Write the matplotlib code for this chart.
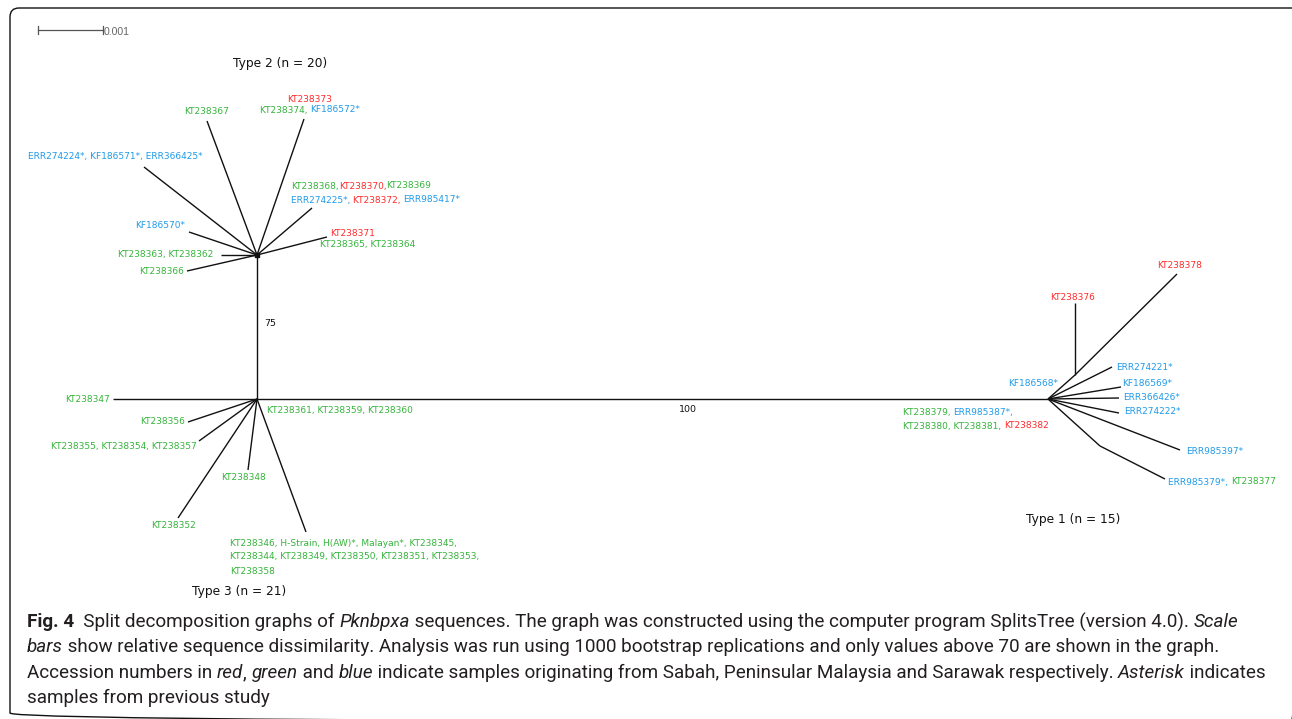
import matplotlib
matplotlib.use("Agg")
import matplotlib.pyplot as plt
from matplotlib.patches import FancyBboxPatch

RED = "#ff2b2b"
GRN = "#35b43c"
BLU = "#1f9be8"

#%% network nodes (pixel positions)
node_names = ["hub2", "hub3", "hub1",
              "t2_367", "t2_374", "t2_err", "t2_368", "t2_371", "t2_570", "t2_363", "t2_366",
              "t3_347", "t3_356", "t3_355", "t3_348", "t3_352", "t3_346",
              "n1_a", "t1_376", "t1_378", "t1_221", "t1_569", "t1_426", "t1_222", "t1_397",
              "n1_b", "t1_379"]
node_x = [257, 257, 1048,
          207, 304, 144, 312, 327, 189, 221, 187,
          113, 188, 199, 248, 178, 306,
          1075, 1075, 1177, 1112, 1121, 1119, 1119, 1180,
          1100, 1165]
node_y = [255, 399, 399,
          121, 119, 167, 208, 237, 232, 255, 271,
          399, 422, 441, 470, 518, 532,
          375, 303, 274, 367, 387, 398, 413, 450,
          446, 479]

edges = [("hub2", "hub3"), ("hub3", "hub1"),
         ("hub2", "t2_367"), ("hub2", "t2_374"), ("hub2", "t2_err"), ("hub2", "t2_368"),
         ("hub2", "t2_371"), ("hub2", "t2_570"), ("hub2", "t2_363"), ("hub2", "t2_366"),
         ("hub3", "t3_347"), ("hub3", "t3_356"), ("hub3", "t3_355"), ("hub3", "t3_348"),
         ("hub3", "t3_352"), ("hub3", "t3_346"),
         ("hub1", "n1_a"), ("n1_a", "t1_376"), ("n1_a", "t1_378"),
         ("hub1", "t1_221"), ("hub1", "t1_569"), ("hub1", "t1_426"), ("hub1", "t1_222"),
         ("hub1", "t1_397"), ("hub1", "n1_b"), ("n1_b", "t1_379")]

#%% leaf labels : (x, y, align, [(text, colour), ...])
labels = [
    (207, 112, "center", [("KT238367", GRN)]),
    (310, 99, "center", [("KT238373", RED)]),
    (310, 110, "center", [("KT238374, ", GRN), ("KF186572*", BLU)]),
    (115, 157, "center", [("ERR274224*, KF186571*, ERR366425*", BLU)]),
    (291, 186, "left", [("KT238368,", GRN), ("KT238370,", RED), ("KT238369", GRN)]),
    (291, 200, "left", [("ERR274225*, ", BLU), ("KT238372, ", RED), ("ERR985417*", BLU)]),
    (330, 233, "left", [("KT238371", RED)]),
    (320, 245, "left", [("KT238365, KT238364", GRN)]),
    (185, 226, "right", [("KF186570*", BLU)]),
    (213, 254, "right", [("KT238363, KT238362", GRN)]),
    (184, 271, "right", [("KT238366", GRN)]),
    (110, 399, "right", [("KT238347", GRN)]),
    (185, 421, "right", [("KT238356", GRN)]),
    (197, 447, "right", [("KT238355, KT238354, KT238357", GRN)]),
    (244, 477, "center", [("KT238348", GRN)]),
    (173, 525, "center", [("KT238352", GRN)]),
    (230, 543, "left", [("KT238346, H-Strain, H(AW)*, Malayan*, KT238345,", GRN)]),
    (230, 557, "left", [("KT238344, KT238349, KT238350, KT238351, KT238353,", GRN)]),
    (230, 571, "left", [("KT238358", GRN)]),
    (267, 410, "left", [("KT238361, KT238359, KT238360", GRN)]),
    (1073, 297, "center", [("KT238376", RED)]),
    (1180, 266, "center", [("KT238378", RED)]),
    (1116, 367, "left", [("ERR274221*", BLU)]),
    (1122, 384, "left", [("KF186569*", BLU)]),
    (1123, 398, "left", [("ERR366426*", BLU)]),
    (1124, 412, "left", [("ERR274222*", BLU)]),
    (1186, 451, "left", [("ERR985397*", BLU)]),
    (1168, 482, "left", [("ERR985379*, ", BLU), ("KT238377", GRN)]),
    (1058, 383, "right", [("KF186568*", BLU)]),
    (903, 413, "left", [("KT238379, ", GRN), ("ERR985387*,", BLU)]),
    (903, 426, "left", [("KT238380, KT238381, ", GRN), ("KT238382", RED)]),
]

group_titles = ["Type 2 (n = 20)", "Type 3 (n = 21)", "Type 1 (n = 15)"]
group_xy = [(280, 64), (239, 592), (1073, 520)]
support = ["75", "100"]
support_xy = [(270, 324), (688, 410)]

caption = [
    [("Fig. 4", "bold"), ("  Split decomposition graphs of ", "normal"), ("Pknbpxa", "italic"),
     (" sequences. The graph was constructed using the computer program SplitsTree (version 4.0). ", "normal"),
     ("Scale", "italic")],
    [("bars", "italic"),
     (" show relative sequence dissimilarity. Analysis was run using 1000 bootstrap replications and only values above 70 are shown in the graph.", "normal")],
    [("Accession numbers in ", "normal"), ("red", "italic"), (", ", "normal"), ("green", "italic"),
     (" and ", "normal"), ("blue", "italic"),
     (" indicate samples originating from Sabah, Peninsular Malaysia and Sarawak respectively. ", "normal"),
     ("Asterisk", "italic"), (" indicates", "normal")],
    [("samples from previous study", "normal")],
]
caption_y = [622, 647, 673, 698]
caption_right = [1263, 1248, 1262, None]

#%% drawing
fig = plt.figure(figsize=(12.92, 7.19), dpi=100)
ax = fig.add_axes([0, 0, 1, 1])
ax.set_xlim(0, 1292)
ax.set_ylim(719, 0)
ax.axis("off")
rend = fig.canvas.get_renderer()

frame = FancyBboxPatch((10, 8), 1290, 714, boxstyle="round,pad=0,rounding_size=9",
                       fill=False, ec="#111111", lw=1.0)
ax.add_patch(frame)

pos = dict(zip(node_names, zip(node_x, node_y)))
for a, b in edges:
    ax.plot([pos[a][0], pos[b][0]], [pos[a][1], pos[b][1]], color="#111111", lw=1.0,
            solid_capstyle="butt")
ax.plot([pos["hub2"][0]], [pos["hub2"][1]], "s", color="#111111", ms=2.5)


def _w(s, **kw):
    t = ax.text(0, 0, s, **kw)
    w = t.get_window_extent(rend).width
    t.remove()
    return w


def width(s, **kw):
    # sandwich between two letters so spaces and bearings are counted right
    return _w("a" + s + "a", **kw) - _w("aa", **kw)


LBL = 6.5
for x, y, ha, runs in labels:
    ws = [width(s, fontsize=LBL) for s, c in runs]
    tot = sum(ws)
    x0 = x if ha == "left" else (x - tot / 2 if ha == "center" else x - tot)
    for (s, c), w in zip(runs, ws):
        ax.text(x0, y, s, color=c, fontsize=LBL, ha="left", va="center")
        x0 += w

for t, (x, y) in zip(group_titles, group_xy):
    ax.text(x, y, t, fontsize=8.8, ha="center", va="center", color="#111111")
for t, (x, y) in zip(support, support_xy):
    ax.text(x, y, t, fontsize=6.8, ha="center", va="center", color="#111111")

# scale bar
ax.plot([38, 103], [30, 30], color="#555555", lw=0.9)
ax.plot([38, 38], [26, 34], color="#555555", lw=0.9)
ax.plot([103, 103], [26, 34], color="#555555", lw=0.9)
ax.text(104, 32, "0.001", fontsize=7.6, color="#666666", ha="left", va="center",
        family="Liberation Sans")

# caption
cap_fam = ["Roboto", "DejaVu Sans"]


def run_kw(style, size):
    kw = dict(fontsize=size, family=cap_fam, color="#231f20")
    if style == "bold":
        kw["weight"] = "bold"
    if style == "italic":
        kw["style"] = "italic"
    return kw


size = 12.0
ratios = []
for runs, xr in zip(caption, caption_right):
    if xr is None:
        continue
    w = sum(width(s, **run_kw(st, size)) for s, st in runs)
    ratios.append((xr - 27) / w)
size = size * min(ratios)
for runs, y in zip(caption, caption_y):
    x0 = 27
    for s, st in runs:
        kw = run_kw(st, size)
        ax.text(x0, y, s, ha="left", va="center", **kw)
        x0 += width(s, **kw)

fig.savefig("out.png", dpi=100)
